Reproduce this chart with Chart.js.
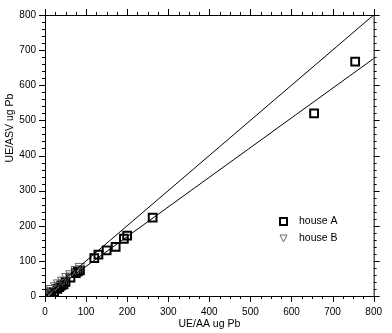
<!DOCTYPE html>
<html lang="en">
<head>
    <meta charset="UTF-8">
    <script src="https://cdn.jsdelivr.net/npm/chart.js"></script>
    <title>UE/ASV vs UE/AA</title>
    <style>
        body { margin: 0; background: #fff; }
        #wrap { width: 392px; height: 333px; }
    </style>
</head>
<body>
    <div id="wrap"><canvas id="chart"></canvas></div>

    <script>
        // house A (squares)
        var houseA_x = [755, 655, 262, 200, 192, 172, 150, 130, 120, 85, 80, 75, 62, 50, 45, 40, 35, 30, 22, 15, 10, 5, 2];
        var houseA_y = [667, 520, 223, 172, 163, 140, 130, 118, 108, 73, 70, 65, 52, 40, 33, 30, 25, 20, 12, 8, 5, 3, 1];
        // house B (triangles)
        var houseB_x = [85, 75, 62, 52, 42, 32, 25, 15, 10, 5, 3];
        var houseB_y = [85, 76, 64, 56, 46, 38, 30, 22, 16, 9, 3];
        // fitted lines
        var line1_x = [0, 800];
        var line1_y = [0, 800];
        var line2_x = [0, 800];
        var line2_y = [0, 676];

        var xTicks = [0, 100, 200, 300, 400, 500, 600, 700, 800];
        var yTicks = [0, 100, 200, 300, 400, 500, 600, 700, 800];

        var FONT = '"Liberation Sans", Arial, sans-serif';

        function pts(xs, ys) {
            return xs.map(function (x, i) { return { x: x, y: ys[i] }; });
        }

        // ticks all round the frame, major + minor, pointing outward
        var frameTicks = {
            id: 'frameTicks',
            afterDraw: function (chart) {
                var ctx = chart.ctx, a = chart.chartArea;
                var sx = chart.scales.x, sy = chart.scales.y;
                ctx.save();
                ctx.strokeStyle = '#000';
                ctx.lineWidth = 1;
                ctx.strokeRect(a.left + 0.5, a.top + 0.5, a.right - a.left, a.bottom - a.top);
                ctx.beginPath();
                for (var v = 0; v <= 800; v += 25) {
                    var px = Math.round(sx.getPixelForValue(v)) + 0.5;
                    var len = v % 100 === 0 ? 6 : 3;
                    ctx.moveTo(px, a.bottom); ctx.lineTo(px, a.bottom + len);
                    ctx.moveTo(px, a.top); ctx.lineTo(px, a.top - len);
                }
                for (var w = 0; w <= 800; w += 20) {
                    var py = Math.round(sy.getPixelForValue(w)) + 0.5;
                    var l2 = w % 100 === 0 ? 6 : 3;
                    ctx.moveTo(a.left, py); ctx.lineTo(a.left - l2, py);
                    ctx.moveTo(a.right, py); ctx.lineTo(a.right + l2, py);
                }
                ctx.stroke();

                // y title
                ctx.fillStyle = '#000';
                ctx.font = '10.5px ' + FONT;
                ctx.translate(10, 128);
                ctx.rotate(-Math.PI / 2);
                ctx.textAlign = 'center';
                ctx.textBaseline = 'middle';
                ctx.fillText('UE/ASV ug Pb', 0, 0);
                ctx.restore();

                // legend
                ctx.save();
                ctx.font = '10.5px ' + FONT;
                ctx.fillStyle = '#000';
                ctx.textBaseline = 'middle';
                ctx.fillText('house A', 299, 221);
                ctx.fillText('house B', 299, 238);
                ctx.lineWidth = 2;
                ctx.strokeStyle = '#000';
                ctx.strokeRect(280, 218, 7, 7);
                ctx.lineWidth = 1;
                ctx.strokeStyle = '#666';
                ctx.beginPath();
                ctx.moveTo(280, 235); ctx.lineTo(287, 235); ctx.lineTo(283.5, 242); ctx.closePath();
                ctx.stroke();
                ctx.restore();
            }
        };

        var ctx = document.getElementById('chart').getContext('2d');
        var chart = new Chart(ctx, {
            type: 'scatter',
            data: {
                datasets: [{
                    label: 'line 1',
                    data: pts(line1_x, line1_y),
                    showLine: true,
                    borderColor: '#000',
                    borderWidth: 1,
                    pointRadius: 0
                }, {
                    label: 'line 2',
                    data: pts(line2_x, line2_y),
                    showLine: true,
                    borderColor: '#000',
                    borderWidth: 1,
                    pointRadius: 0
                }, {
                    label: 'house B',
                    data: pts(houseB_x, houseB_y),
                    pointStyle: 'triangle',
                    rotation: 180,
                    pointRadius: 5.5,
                    borderColor: '#666',
                    borderWidth: 1,
                    backgroundColor: 'rgba(255,255,255,0)'
                }, {
                    label: 'house A',
                    data: pts(houseA_x, houseA_y),
                    pointStyle: 'rect',
                    pointRadius: 5.5,
                    borderColor: '#000',
                    borderWidth: 2,
                    backgroundColor: 'rgba(255,255,255,0)'
                }]
            },
            options: {
                responsive: true,
                maintainAspectRatio: false,
                animation: false,
                layout: { padding: { top: 11, right: 13, left: 0, bottom: 3 } },
                plugins: { legend: { display: false }, tooltip: { enabled: false } },
                scales: {
                    x: {
                        type: 'linear', min: 0, max: 800,
                        afterBuildTicks: function (s) { s.ticks = xTicks.map(function (v) { return { value: v }; }); },
                        afterFit: function (s) { s.height = 34; },
                        grid: { display: false, drawTicks: false, tickLength: 0 },
                        border: { display: false },
                        ticks: { color: '#000', padding: 10, maxRotation: 0, font: { family: FONT, size: 10 } },
                        title: { display: true, text: 'UE/AA ug Pb', color: '#000', padding: 0, font: { family: FONT, size: 10.5 } }
                    },
                    y: {
                        type: 'linear', min: 0, max: 800,
                        afterBuildTicks: function (s) { s.ticks = yTicks.map(function (v) { return { value: v }; }); },
                        afterFit: function (s) { s.width = 45; },
                        grid: { display: false, drawTicks: false, tickLength: 0 },
                        border: { display: false },
                        ticks: { color: '#000', padding: 9, font: { family: FONT, size: 10 } }
                    }
                }
            },
            plugins: [frameTicks]
        });
    </script>
</body>
</html>
